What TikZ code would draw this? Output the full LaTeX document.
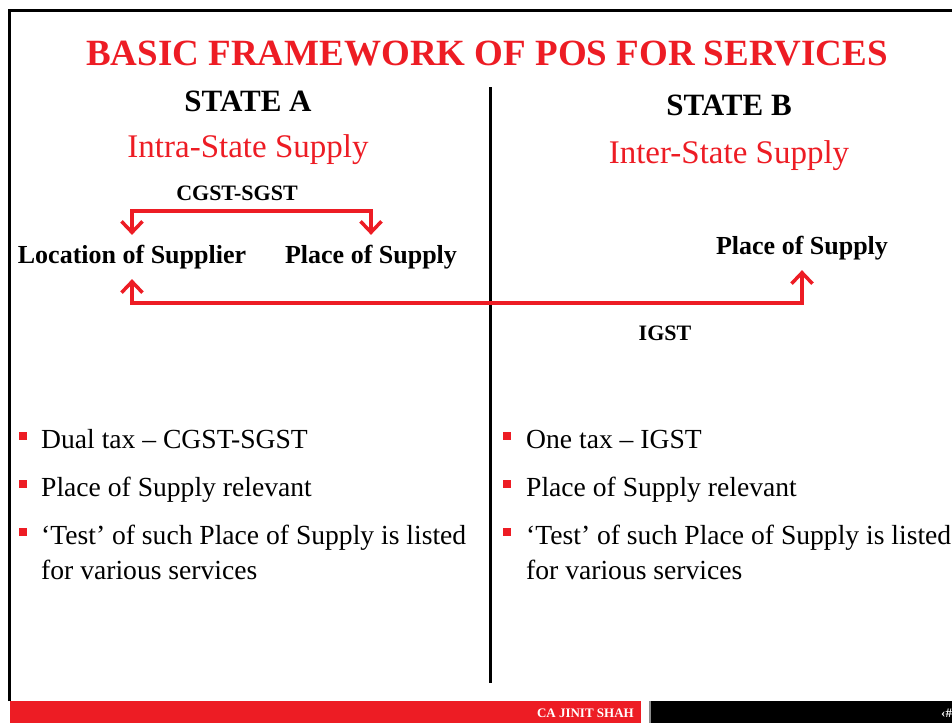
\documentclass[tikz,border=0pt]{standalone}
\usepackage{fontspec}
\setmainfont{Liberation Serif}
\usetikzlibrary{positioning,arrows.meta}
\definecolor{posred}{RGB}{237,28,36}
\tikzset{
  heading/.style={anchor=base,inner sep=0,font=\fontsize{31}{33}\selectfont\bfseries},
  supply/.style={anchor=base,inner sep=0,text=posred,font=\fontsize{33}{36}\selectfont},
  place/.style={inner sep=3pt,font=\fontsize{26}{28}\selectfont\bfseries},
  tax/.style={inner sep=3pt,font=\fontsize{22}{24}\selectfont\bfseries},
  point/.style={anchor=base west,align=left,inner sep=0,font=\fontsize{27.6}{35}\selectfont},
  bulletsq/.style={fill=posred,minimum size=8pt,inner sep=0},
  footer/.style={text=white,inner sep=0,font=\fontsize{13}{14}\selectfont\bfseries},
  taxarrow/.style={draw=posred,line width=3.5pt,shorten <=7pt,shorten >=7pt,
    {Straight Barb[length=11pt,width=21pt]}-{Straight Barb[length=11pt,width=21pt]}},
}

\begin{document}
\begin{tikzpicture}[x=1pt,y=-1pt]
    \useasboundingbox (0,0) rectangle (952,723);
    %Frame
    \draw[line width=3pt] (9,701) -- (9,10) -- (952,10);
    %Title
    \node[text=posred,inner sep=0,font=\fontsize{37}{40}\selectfont\bfseries] (title) at (487,54) {BASIC FRAMEWORK OF POS FOR SERVICES};
    %Divider
    \coordinate (divtop) at (490,87);
    \coordinate (divbot) at (490,683);
    \draw[line width=3pt] (divtop) -- (divbot);
    %State A
    \node[heading] (stateA) at (248,111.5) {STATE A};
    \node[supply] (supplyA) at (248,157) {Intra-State Supply};
    \node[tax] (cgst) at (237,193) {CGST-SGST};
    \node[place] (locA) at (132,257) {Location of Supplier};
    \node[place] (posA) at (371,257) {Place of Supply};
    \coordinate (cgstbar) at (250,211);
    \draw[taxarrow] (locA.north) |- (cgstbar) -| (posA.north);
    %State B
    \node[heading] (stateB) at (729,115) {STATE B};
    \node[supply] (supplyB) at (729,163) {Inter-State Supply};
    \node[place] (posB) at (802,248) {Place of Supply};
    \node[tax] (igst) at (665,333) {IGST};
    \coordinate (igstbar) at (470,303);
    \draw[taxarrow] (locA.south) |- (igstbar) -| (posB.south);
    %Points State A
    \node[bulletsq] (sqA1) at (22.5,436) {};
    \node[point] (ptA1) at (41,448) {Dual tax – CGST-SGST};
    \node[bulletsq] (sqA2) at (22.5,484) {};
    \node[point] (ptA2) at (41,496) {Place of Supply relevant};
    \node[bulletsq] (sqA3) at (22.5,532) {};
    \node[point] (ptA3) at (41,579) {‘Test’ of such Place of Supply is listed\\for various services};
    %Points State B
    \node[bulletsq] (sqB1) at (507,436) {};
    \node[point] (ptB1) at (526,448) {One tax – IGST};
    \node[bulletsq] (sqB2) at (507,484) {};
    \node[point] (ptB2) at (526,496) {Place of Supply relevant};
    \node[bulletsq] (sqB3) at (507,532) {};
    \node[point] (ptB3) at (526,579) {‘Test’ of such Place of Supply is listed\\for various services};
    %Footer
    \fill[posred] (10,701) rectangle (641,723);
    \fill[black!45] (649,701) rectangle (651,723);
    \fill[black] (651,701) rectangle (952,723);
    \node[footer,anchor=base east] (author) at (634,717) {CA JINIT SHAH};
    \node[footer,anchor=base west] (slideno) at (941,717) {‹\#›};
\end{tikzpicture}
\end{document}
